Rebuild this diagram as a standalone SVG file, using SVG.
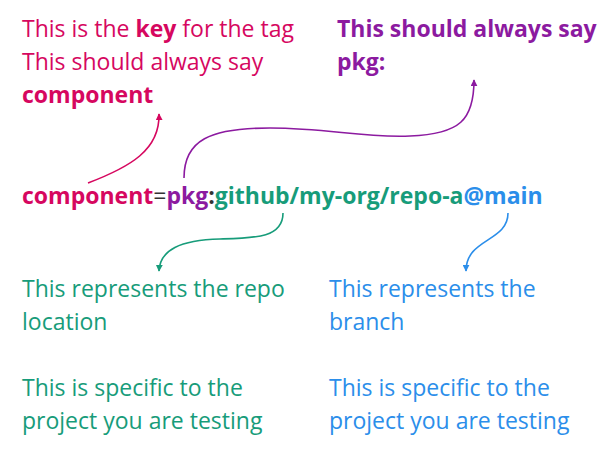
<svg xmlns="http://www.w3.org/2000/svg" width="607" height="452" viewBox="0 0 607 452">
<defs>
<style>
text{font-family:"Open Sans","Noto Sans",sans-serif;font-size:23px;}
.b{font-weight:bold;}
.cr{fill:#D6075F;}
.pu{fill:#8C1AA0;}
.gr{fill:#179C7A;}
.bl{fill:#2B8EEA;}
.dk{fill:#333333;}
.c{fill:none;stroke-width:1.6;}
</style>
<marker id="mcr" viewBox="0 0 10 10" refX="9" refY="5" markerWidth="7" markerHeight="7" markerUnits="userSpaceOnUse" orient="auto"><path d="M0,0 L10,5 L0,10 z" fill="#D6075F"/></marker>
<marker id="mpu" viewBox="0 0 10 10" refX="9" refY="5" markerWidth="7" markerHeight="7" markerUnits="userSpaceOnUse" orient="auto"><path d="M0,0 L10,5 L0,10 z" fill="#8C1AA0"/></marker>
<marker id="mgr" viewBox="0 0 10 10" refX="9" refY="5" markerWidth="7" markerHeight="7" markerUnits="userSpaceOnUse" orient="auto"><path d="M0,0 L10,5 L0,10 z" fill="#179C7A"/></marker>
<marker id="mbl" viewBox="0 0 10 10" refX="9" refY="5" markerWidth="7" markerHeight="7" markerUnits="userSpaceOnUse" orient="auto"><path d="M0,0 L10,5 L0,10 z" fill="#2B8EEA"/></marker>
</defs>
<rect width="607" height="452" fill="#ffffff"/>
<g id="key-note">
<text class="cr" x="22" y="37">This is the <tspan class="b">key</tspan> for the tag</text>
<text class="cr" x="22" y="70">This should always say</text>
<text class="cr b" x="22" y="103">component</text>
</g>
<g id="pkg-note">
<text class="pu b" x="337" y="37">This should always say</text>
<text class="pu b" x="337" y="70">pkg:</text>
</g>
<g id="tag">
<text class="b" x="22" y="204"><tspan class="cr">component</tspan><tspan class="dk" font-weight="normal">=</tspan><tspan class="pu">pkg</tspan><tspan class="dk">:</tspan><tspan class="gr">github/my-org/repo-a</tspan><tspan class="bl">@main</tspan></text>
</g>
<g id="repo-note">
<text class="gr" x="22" y="297">This represents the repo</text>
<text class="gr" x="22" y="330">location</text>
<text class="gr" x="22" y="396">This is specific to the</text>
<text class="gr" x="22" y="429">project you are testing</text>
</g>
<g id="branch-note">
<text class="bl" x="329" y="297">This represents the</text>
<text class="bl" x="329" y="330">branch</text>
<text class="bl" x="329" y="396">This is specific to the</text>
<text class="bl" x="329" y="429">project you are testing</text>
</g>
<g id="connectors">
<path class="c" stroke="#D6075F" marker-end="url(#mcr)" d="M88,183 C130,167 160,150 159,114"/>
<path class="c" stroke="#8C1AA0" marker-end="url(#mpu)" d="M184,178 C184,140 210,128 270,128 C330,128 360,138 410,136 C460,134 474,120 474,80"/>
<path class="c" stroke="#179C7A" marker-end="url(#mgr)" d="M283,213 C283,238 255,238 220,239 C180,240 160,250 159,271"/>
<path class="c" stroke="#2B8EEA" marker-end="url(#mbl)" d="M508,213 C508,242 466,238 466,271"/>
</g>
</svg>
